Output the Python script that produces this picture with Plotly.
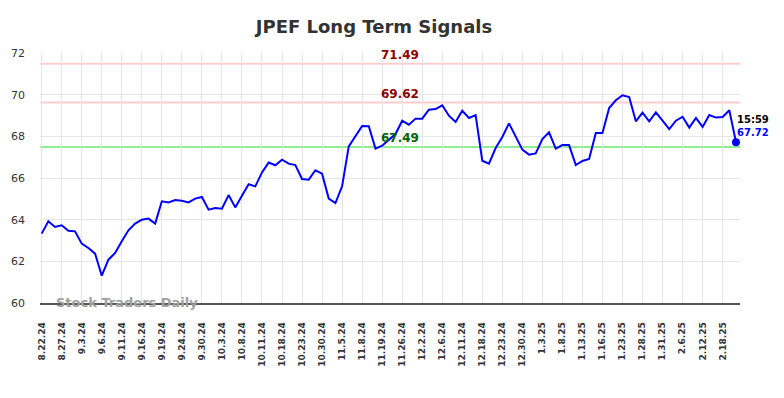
import plotly.graph_objects as go

title_text = "JPEF Long Term Signals"
tick_labels = ["8.22.24", "8.27.24", "9.3.24", "9.6.24", "9.11.24", "9.16.24", "9.19.24",
               "9.24.24", "9.30.24", "10.3.24", "10.8.24", "10.11.24", "10.18.24", "10.23.24",
               "10.30.24", "11.5.24", "11.8.24", "11.19.24", "11.26.24", "12.2.24", "12.6.24",
               "12.11.24", "12.18.24", "12.23.24", "12.30.24", "1.3.25", "1.8.25", "1.13.25",
               "1.16.25", "1.23.25", "1.28.25", "1.31.25", "2.6.25", "2.12.25", "2.18.25"]
tick_step = 3

prices = [63.33, 63.92, 63.65, 63.73, 63.47, 63.44, 62.85, 62.64, 62.37, 61.31,
          62.08, 62.40, 62.96, 63.49, 63.81, 64.00, 64.05, 63.81, 64.88, 64.83,
          64.94, 64.91, 64.83, 65.01, 65.09, 64.48, 64.56, 64.53, 65.18, 64.59,
          65.15, 65.70, 65.60, 66.27, 66.74, 66.61, 66.88, 66.69, 66.62, 65.95,
          65.92, 66.37, 66.21, 65.01, 64.80, 65.60, 67.52, 68.00, 68.50, 68.48,
          67.41, 67.55, 67.81, 68.11, 68.75, 68.56, 68.85, 68.85, 69.28, 69.31,
          69.49, 68.99, 68.69, 69.23, 68.88, 69.02, 66.83, 66.69, 67.44, 67.97,
          68.62, 68.00, 67.36, 67.12, 67.18, 67.87, 68.19, 67.41, 67.58, 67.58,
          66.62, 66.82, 66.91, 68.16, 68.16, 69.36, 69.73, 69.97, 69.89, 68.72,
          69.14, 68.72, 69.15, 68.75, 68.35, 68.75, 68.94, 68.42, 68.88, 68.45,
          69.02, 68.90, 68.93, 69.25, 67.72]

signal_levels = [71.49, 69.62, 67.49]
signal_text_colors = ["#8b0000", "#8b0000", "#006400"]
signal_line_colors = ["#ffcccc", "#ffcccc", "#90ee90"]
last_time = "15:59"
y_ticks = [60, 62, 64, 66, 68, 70, 72]

FONT = "DejaVu Sans"
x_idx = list(range(len(prices)))
tick_vals = [i * tick_step for i in range(len(tick_labels))]

W, H = 776, 390  # page body adds an 8px margin

fig = go.Figure()

for lvl, lc in zip(signal_levels, signal_line_colors):
    fig.add_shape(type="line", xref="paper", x0=0, x1=1, yref="y", y0=lvl, y1=lvl,
                  line=dict(color=lc, width=2), layer="below")

fig.add_trace(go.Scatter(x=x_idx, y=prices, mode="lines",
                         line=dict(color="#0000ff", width=2), hoverinfo="skip",
                         showlegend=False))
fig.add_trace(go.Scatter(x=[x_idx[-1]], y=[prices[-1]], mode="markers",
                         marker=dict(color="#0000ff", size=8), hoverinfo="skip",
                         showlegend=False))

for lvl, tc in zip(signal_levels, signal_text_colors):
    fig.add_annotation(x=53.7, y=lvl, xref="x", yref="y", text=f"{lvl:.2f}",
                       showarrow=False, yanchor="bottom", xanchor="center",
                       font=dict(family=FONT, size=12, color=tc, weight="bold"))

fig.add_annotation(x=x_idx[-1], y=prices[-1], text=last_time, showarrow=False,
                   xanchor="left", yanchor="middle", yshift=23, xshift=-1,
                   font=dict(family=FONT, size=10, color="#000000", weight="bold"))
fig.add_annotation(x=x_idx[-1], y=prices[-1], text=f"{prices[-1]:.2f}", showarrow=False,
                   xanchor="left", yanchor="middle", yshift=10, xshift=-1,
                   font=dict(family=FONT, size=10, color="#0000ff", weight="bold"))

fig.add_annotation(x=0.02, y=60, xref="paper", yref="y", text="Stock Traders Daily",
                   showarrow=False, xanchor="left", yanchor="middle", yshift=1,
                   font=dict(family=FONT, size=13, color="#a0a0a0", weight="bold"))

fig.update_layout(
    width=W, height=H,
    margin=dict(l=32, r=44, t=45, b=95, autoexpand=False),
    paper_bgcolor="white", plot_bgcolor="white",
    title=dict(text=title_text, x=366 / W, xref="container", xanchor="center",
               y=1 - 18.5 / H, yref="container", yanchor="middle",
               font=dict(family=FONT, size=18, color="#333333", weight="bold")),
    font=dict(family=FONT),
    xaxis=dict(range=[-0.25, 104.6], tickmode="array", tickvals=tick_vals,
               ticktext=tick_labels, tickangle=-90, showgrid=True,
               gridcolor="#e6e6e6", gridwidth=1, zeroline=False,
               showline=True, linecolor="#555555", linewidth=1.5,
               ticks="", ticklabelstandoff=14, automargin=False,
               tickfont=dict(family=FONT, size=9, color="#333333", weight="bold")),
    yaxis=dict(range=[60, 72], tickmode="array", tickvals=y_ticks,
               showgrid=True, gridcolor="#e6e6e6", gridwidth=1, zeroline=False,
               showline=False, ticks="", ticklabelstandoff=14, automargin=False,
               tickfont=dict(family=FONT, size=11, color="#333333")),
)

fig.write_html("out.html")
